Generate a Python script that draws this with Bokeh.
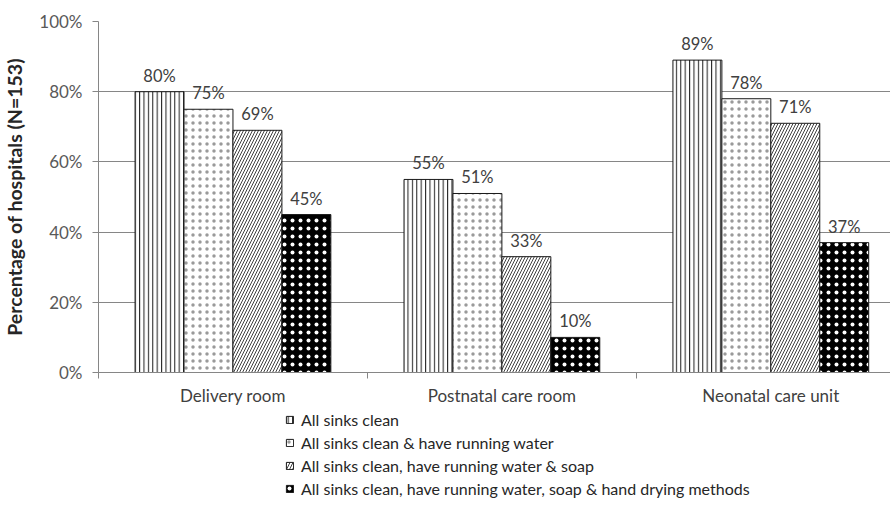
from bokeh.plotting import figure
from bokeh.layouts import column
from bokeh.models import ColumnDataSource, FixedTicker, Legend, LegendItem, LabelSet, CustomJSTickFormatter
from bokeh.core.properties import value
from bokeh.embed import file_html
from bokeh.resources import INLINE

categories = ["Delivery room", "Postnatal care room", "Neonatal care unit"]
series_names = [
    "All sinks clean",
    "All sinks clean & have running water",
    "All sinks clean, have running water & soap",
    "All sinks clean, have running water, soap & hand drying methods",
]
clean = [80, 55, 89]
clean_water = [75, 51, 78]
clean_water_soap = [69, 33, 71]
clean_water_soap_drying = [45, 10, 37]
y_ticks = [0, 20, 40, 60, 80, 100]

series_values = [clean, clean_water, clean_water_soap, clean_water_soap_drying]
styles = [
    dict(fill_color="white", hatch_pattern="|", hatch_scale=4.4, hatch_color="#1a1a1a", hatch_weight=1),
    dict(fill_color="white", hatch_pattern=".", hatch_scale=7, hatch_color="#9a9a9a", hatch_weight=0.5),
    dict(fill_color="white", hatch_pattern="/", hatch_scale=6, hatch_color="#404040", hatch_weight=1),
    dict(fill_color="black", hatch_pattern=".", hatch_scale=8, hatch_color="white", hatch_weight=1),
]

FONT = "Lato"
W = 890
X_END = 2.945
n_series = len(series_values)
bar_w = 0.182
offsets = [(i - (n_series - 1) / 2) * bar_w for i in range(n_series)]

p = figure(width=W, height=408, output_backend="svg", toolbar_location=None,
           x_range=(0, X_END), y_range=(0, 100),
           min_border_left=97, min_border_right=0, min_border_top=21, min_border_bottom=35)
p.outline_line_color = None
p.background_fill_color = "white"
p.border_fill_color = "white"

# legend strip below the chart (hidden proxy renderers carrying the same styles)
pl = figure(width=W, height=92, output_backend="svg", toolbar_location=None,
            x_range=(0, X_END), y_range=(-2, -1), x_axis_type=None, y_axis_type=None,
            min_border_left=0, min_border_right=0, min_border_top=0, min_border_bottom=0)
pl.outline_line_color = None
pl.xgrid.grid_line_color = None
pl.ygrid.grid_line_color = None

legend_items = []
for i, vals in enumerate(series_values):
    xs = [k + 0.5 + offsets[i] for k in range(len(categories))]
    src = ColumnDataSource(dict(x=xs, top=vals, lab=[f"{v}%" for v in vals]))
    p.vbar(x="x", top="top", width=bar_w, source=src, line_color="#1a1a1a", line_width=1, **styles[i])
    labels = LabelSet(x="x", y="top", text="lab", source=src, text_align="center", text_baseline="middle",
                      y_offset=16, text_font=value(FONT), text_font_size="16.5px", text_color="#404040")
    p.add_layout(labels)
    r = pl.vbar(x="x", top="top", width=bar_w, source=src, line_color="#1a1a1a", line_width=1,
                visible=False, **styles[i])
    legend_items.append(LegendItem(label=series_names[i], renderers=[r]))

# axes
p.yaxis.ticker = FixedTicker(ticks=y_ticks)
p.yaxis.formatter = CustomJSTickFormatter(code="return tick + '%';")
p.yaxis.axis_label = "Percentage of hospitals (N=153)"
p.yaxis.axis_label_text_font = FONT
p.yaxis.axis_label_text_font_style = "bold"
p.yaxis.axis_label_text_font_size = "19.5px"
p.yaxis.axis_label_text_color = "#262626"
p.yaxis.axis_label_standoff = 10
p.yaxis.major_label_text_font = FONT
p.yaxis.major_label_text_font_size = "17px"
p.yaxis.major_label_text_color = "#595959"
p.yaxis.major_label_standoff = 10
p.yaxis.axis_line_color = "#868686"
p.yaxis.major_tick_line_color = "#868686"
p.yaxis.major_tick_out = 6
p.yaxis.major_tick_in = 0
p.yaxis.minor_tick_line_color = None

p.xaxis.ticker = FixedTicker(ticks=[k + 0.5 for k in range(len(categories))],
                             minor_ticks=list(range(len(categories) + 1)))
p.xaxis.major_label_overrides = {k + 0.5: c for k, c in enumerate(categories)}
p.xaxis.major_label_text_font = FONT
p.xaxis.major_label_text_font_size = "17px"
p.xaxis.major_label_text_color = "#404040"
p.xaxis.major_label_standoff = 6
p.xaxis.axis_line_color = "#868686"
p.xaxis.major_tick_line_color = None
p.xaxis.major_tick_out = 0
p.xaxis.major_tick_in = 0
p.xaxis.minor_tick_line_color = "#868686"
p.xaxis.minor_tick_out = 6
p.xaxis.minor_tick_in = 0

p.xgrid.grid_line_color = None
p.ygrid.grid_line_color = "#868686"
p.ygrid.grid_line_width = 1

legend = Legend(items=legend_items, orientation="vertical", location=(187, 0),
                border_line_color=None, background_fill_alpha=0, padding=0, margin=0, spacing=0,
                label_height=23, glyph_height=9, glyph_width=9, label_standoff=7,
                inactive_fill_alpha=0,
                label_text_font=FONT, label_text_font_size="16px", label_text_color="#262626")
pl.add_layout(legend, "center")

layout = column(p, pl, spacing=0)
open("out.html", "w").write(file_html(layout, INLINE))
